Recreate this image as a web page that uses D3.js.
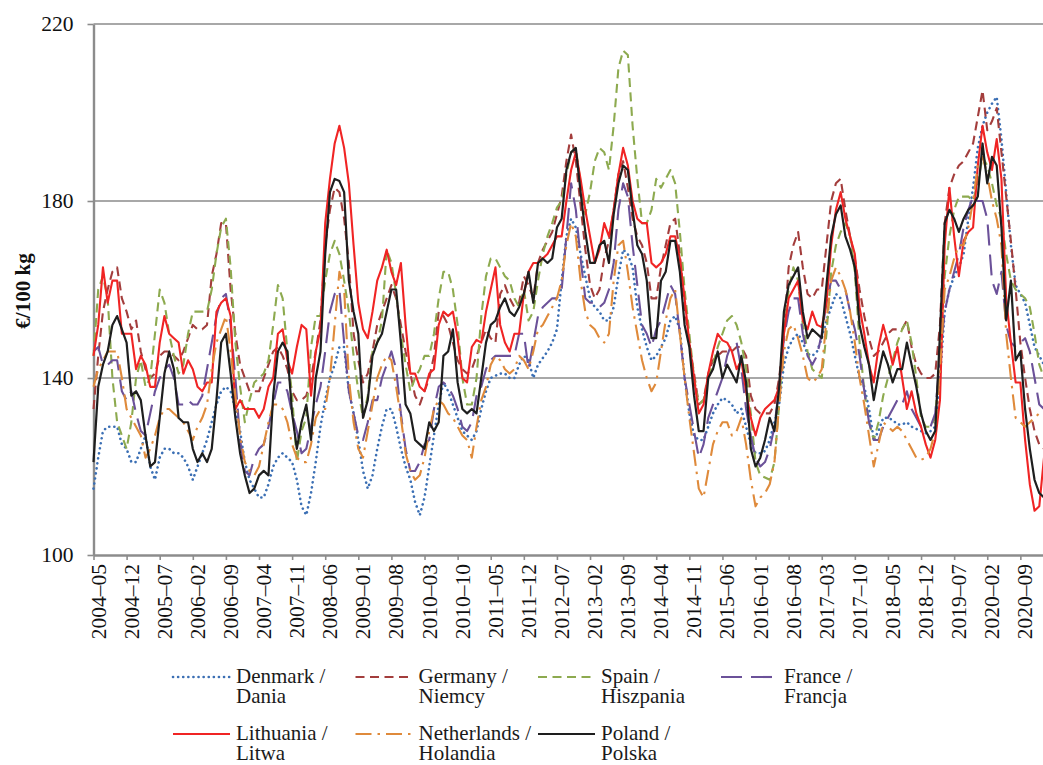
<!DOCTYPE html>
<html>
<head>
<meta charset="UTF-8" />
<title>Prices €/100 kg</title>
<script src="https://cdnjs.cloudflare.com/ajax/libs/d3/7.8.5/d3.min.js"></script>
<style>
  body { margin: 0; background: #fff; }
  svg { display: block; font-family: "Liberation Serif", "Times New Roman", serif; }
</style>
</head>
<body>
<div id="chart"></div>
<script>
// tick labels shown on the x axis (every 7th month)
var tickLabels = ["2004–05","2004–12","2005–07","2006–02","2006–09","2007–04","2007–11","2008–06",
  "2009–01","2009–08","2010–03","2010–10","2011–05","2011–12","2012–07","2013–02","2013–09",
  "2014–04","2014–11","2015–06","2016–01","2016–08","2017–03","2017–10","2018–05","2018–12",
  "2019–07","2020–02","2020–09"];
var yTicks = [100, 140, 180, 220];

// monthly categories 2004-05 .. 2021-02
var months = [];
for (var yr = 2004; yr <= 2021; yr++) {
  for (var mo = 1; mo <= 12; mo++) {
    if (yr === 2004 && mo < 5) continue;
    if (yr === 2021 && mo > 2) break;
    months.push(yr + "–" + (mo < 10 ? "0" + mo : mo));
  }
}

var denmark = [115,122,128,129,129,129,125,124,121,121,
  124,127,120,117,122,124,124,123,123,122,
  120,117,120,123,126,130,134,137,138,137,
  133,128,121,117,115,113,113,116,120,122,
  123,122,121,117,111,109,114,121,129,135,
  140,143,147,147,137,132,126,119,115,118,
  124,129,133,133,129,124,120,117,112,109,
  113,120,127,134,139,137,134,131,128,127,
  126,128,133,137,140,140.5,141,141,140,140,
  143,145,144,140,143,144.5,146,148,151,162,
  172,176,174,168,163,158,156,155,153,153,
  156,163,169,168,165,156,151,147,144,145,
  147,149,153,154,151,140,132,127,126,126,
  129,132,134,135.5,135,134,132,133,129,125,
  123,123,123.5,126,130,134,143,147,149,150,
  148,145.5,145,146,149,153,156,159,158,154,
  150,145,140,138,133,126,128,131,131,130.5,
  129.5,129.5,130,129,128.5,128,127.5,128,129,140,
  155,160,163,165,168,176,183,192,197,200,
  202,203.5,194,182,170,161,159,157,152,147,
  145,143];

var germany = [133,145,155,160,164,165,158,155,151,153,
  146,142,140,141,145,146,146,145,144,146,
  149,152,151,151,152,163,168,175,175,160,
  150,143,140,137,137,137,140,143,146,147,
  145,142,137,135,135,136,140,146,153,170,
  178,183,182,176,166,150,144,139,141,146,
  152,155,158,161,158,152,146,141,136,134,
  137,140,145,155,154,152,148,144,142,141,
  142,145,148,151,149,148,159,161,158,156,
  157,163,161,158,166,169,171,173,177,181,
  189,195,189,179,169,161,158,160,167,171,
  178,186,189,183,176,172,170,166,158,158,
  165,170,175,176,168,156,148,141,134,135,
  141,144,145,146,146,146,147,147,145,136,
  133,132,132,132,134,140,150,165,170,173,
  165,159,158,160,160,170,180,184,185,178,
  172,167,160,154,149,145,146,148,150,151,
  151,151,153,147,143,141,140,140,141,152,
  175,183,186,188,189,191,193,199,205,196,
  198,201,191,181,171,160,148,140,133,128,
  125,124];

var spain = [145,160,163,158,140,130,127,124,130,140,
  144,138,140,150,160,157,150,145,141,143,
  150,155,155,155,155,160,168,174,176,165,
  148,138,130,135,139,140,141,144,152,161,
  158,146,136,121,128,131,147,154,154,162,
  168,171,168,162,155,145,137,131,136,146,
  148,153,169,166,159,150,143,137,140,142,
  145,145,150,158,164,164,160,152,140,134,
  134,140,154,163,167,167,165,163,162,158,
  156,160,153,155,162,168,172,175,178.5,180,
  186,191,192,184,177,182,189,192,191,187,
  197,210,214,213,197,185,175,175,178,185,
  183,185,187,184,173,160,150,140,134,135,
  140,143,147,150,153,154,152,148,142,132,
  121,118,117.5,117,121,134,150,160,165,162,
  152,146,142,141,140,150,164,170,173,175,
  172,164,148,137,130,126,130,136,140,144,
  148,151,153,148,140,131,129,129,131,146,
  163,172,178,181,181,181,180,184,190,188,
  184,179,176,168,162,160,159,158,156,150,
  143,140];

var france = [146,147,143,143,144,144,137,135,137,132,
  128,127,132,137,140,142,143,140,134,134,
  135,134,134,136,142,148,154,158,159,152,
  140,126,119,118,122,124,125,129,134,139,
  139,137,132,128,123,124,129,134,138,146,
  155,159,160,148,137,132,127,126,130,135,
  135,140,143,146,142,132,124,119,119,121,
  125,126,133,138,139,138,136,133,129,128,
  130,136,138,142,144,145,145,145,145,145,
  150,150,142,148,154,156,157,158,158,160,
  172,184,178,167,158,157,157,156,157,160,
  166,178,184,181,170,161,152,150,147,151,
  153,157,161,159,150,140,134,128,122,125,
  131,134,137,140,145,148,148,142,133,127,
  122,120,121,124,129,138,149,155,158,158,
  150,145,143,145,150,157,162,162,160,160,
  155,151,145,137,130,126,126,129,131,133,
  135,134,137,133,131,129,129,129,132,145,
  155,160,164,168,174,178,181,180,180,176,
  162,159,164,152,148,147,148,149,146,140,
  134,133];

var lithuania = [145,152,165,157,162,162,150,150,150,142,
  145,143,138,138,148,154,150,149,148,141,
  144,142,138,137,139,139,155,157,158,154,
  133,135,133,133,133,131,133,138,140,150,
  151,144,141,147,152,151,136,146,151,175,
  185,193,197,192,184,170,157,151,149,155,
  162,165,169,164,161,166,152,141,141,138,
  137,141,142,152,155,154,155,149,140,139,
  147,148.6,148,155,160,165,152,148,146,150,
  150,159,164,166,166,167,168,170,172,172,
  180,187,191,185,178,172,166,169,175,172,
  178,186,192,188,180,176,175,175,166,165,
  166,168,172,172,167,158,148,140,132,134,
  141,146,150,148.5,148,146,142,144,137,131,
  127,131,133,134,135,138,150,158,160,162,
  153,151,155,152,151.5,157,170,178,182,176,
  172,168,156,150,143,139,147,152,148,143,
  147,140,133,137,132,129,125,122,126,135,
  170,183,172,163,171,173,174,188,197,191,
  187,194,185,158,148,139,139,126,116,110,
  111,122];

var netherlands = [138,142,144,146,146,146,140,133,131,129,
  127,122,124,127,131,133,133,132,131,130,
  128,126,129,131,134,142,148,151,154,146,
  136,127,121,119,118,120,125,130,134,134,
  133,130,125,122,121,121,125,131,133,133,
  140,152,164,160,140,130,124,122,128,134,
  140,143,145,144,138,131,123,119,117,118,
  122,128,133,135,134,132,131,129,127,126,
  122,129,135,138,143,145,144,142,141,142,
  145,144,142,146,151,152,154,156,158,162,
  170,175,172,162,155,152,151,149,148,150,
  162,170,171,164,156,150,144,140,137,139,
  146,153,158,160,150,140,131,123,115,113,
  119,125,128,130,130,127,128,131,125,117,
  111,113,114,116,121,134,146,151,152,149,
  145,140,139,140,142,153,162,165,163,160,
  155,148,140,134,127,120,125,130,129,128,
  129,128,126,124,122,121.5,122,124,128,142,
  160,163,167,170,170,174,180,188,190,186,
  180,176,170,150,140,131,130,129,130,131,
  132,132];

var poland = [121,138,143,146,152,154,151,148,136,137,
  135,127,120,121,131,141,146,142,131,130,
  130,124,121,123,121,124,135,148,150,141,
  131,123,118,114,115,118,119,118,136,146,
  148,146,132,124,130,134,126,140,146,168,
  182,185,184.5,182,162,155,150,131,135,145,
  148,150,155,160,160,148,134,132,126,125,
  124,130,128,130,145,146,151,139,133,132,
  133,132,140,148,152,153,156,158,155,154,
  156,159,164,157,166,167,166,167,174,176,
  187,191,192,182,173,166,166,170,171,166,
  177,184,188,187,178,170,168,162,149,149,
  162,164,171,171,164,152,147,136,128,128,
  140,142,146,140,143,141,139,145,139,124,
  120,122,126,131,128,138,155,161,163,165,
  155,149,151,150,149,161,172,177,179,172,
  169,165,152,147,143,135,141,146,143,139,
  142,142,148,143,138,132,128,126,128,150,
  175,178,176,173,176,178,179,181,193,184,
  190,188,174,153,162,144,146,133,124,117,
  114,113];

var seriesNames = [["Denmark /", "Dania"], ["Germany /", "Niemcy"], ["Spain /", "Hiszpania"],
  ["France /", "Francja"], ["Lithuania /", "Litwa"], ["Netherlands /", "Holandia"], ["Poland /", "Polska"]];
var seriesValues = [denmark, germany, spain, france, lithuania, netherlands, poland];

// drawing styles
var styles = [
  { color: "#3b6fb4", width: 2.6, dash: "0.1 5", cap: "round" },
  { color: "#a33d3c", width: 2.1, dash: "9 5.5", cap: "butt" },
  { color: "#8daa4f", width: 2.1, dash: "9 5.5", cap: "butt" },
  { color: "#6b5199", width: 2.1, dash: "21 9", cap: "butt" },
  { color: "#f02424", width: 2.1, dash: null, cap: "butt" },
  { color: "#df8a3b", width: 2.1, dash: "16 6 2.5 6", cap: "butt" },
  { color: "#1e1e1e", width: 2.2, dash: null, cap: "butt" }
];

var W = 1043, H = 765;
var plotL = 93.5, plotR = 1044, plotT = 24, plotB = 555;

var svg = d3.select("#chart").append("svg")
  .attr("width", W)
  .attr("height", H);

svg.append("rect").attr("width", W).attr("height", H).attr("fill", "#fff");

var x = d3.scalePoint().domain(months).range([plotL, plotR]);
var y = d3.scaleLinear().domain([100, 220]).range([plotB, plotT]);

// horizontal gridlines
svg.append("g").selectAll("line")
  .data(yTicks.slice(1))
  .enter().append("line")
  .attr("x1", plotL).attr("x2", W)
  .attr("y1", function(d) { return y(d); })
  .attr("y2", function(d) { return y(d); })
  .attr("stroke", "#a8a8a8")
  .attr("stroke-width", 2);

// y axis
var yAxis = svg.append("g")
  .attr("transform", "translate(" + plotL + ",0)")
  .call(d3.axisLeft(y).tickValues(yTicks).tickSize(6).tickSizeOuter(0).tickPadding(14));
yAxis.select(".domain").attr("stroke", "#8c8c8c").attr("stroke-width", 2.4);
yAxis.selectAll(".tick line").attr("stroke", "#8c8c8c").attr("stroke-width", 1.6);
yAxis.selectAll(".tick text")
  .attr("font-family", "Liberation Serif")
  .attr("font-size", "21.5px")
  .attr("fill", "#111");

// x axis
var xAxis = svg.append("g")
  .attr("transform", "translate(0," + plotB + ")")
  .call(d3.axisBottom(x).tickValues(tickLabels).tickSize(5).tickSizeOuter(0));
xAxis.select(".domain").attr("stroke", "#8c8c8c").attr("stroke-width", 2.4);
xAxis.selectAll(".tick line").attr("stroke", "#8c8c8c").attr("stroke-width", 1.6);
xAxis.selectAll(".tick text")
  .attr("transform", "rotate(-90)")
  .attr("text-anchor", "end")
  .attr("x", -9)
  .attr("y", 11.5)
  .attr("dy", null)
  .attr("font-family", "Liberation Serif")
  .attr("font-size", "21.5px")
  .attr("fill", "#111");

// y axis title
svg.append("text")
  .attr("transform", "translate(30,291) rotate(-90)")
  .attr("text-anchor", "middle")
  .attr("font-size", "21px")
  .attr("font-weight", "bold")
  .attr("fill", "#111")
  .text("€/100 kg");

// the lines
var line = d3.line()
  .x(function(d, i) { return x(months[i]); })
  .y(function(d) { return y(d); });

var lines = svg.append("g").attr("fill", "none");
seriesValues.forEach(function(vals, k) {
  var s = styles[k];
  lines.append("path")
    .datum(vals)
    .attr("d", line)
    .attr("stroke", s.color)
    .attr("stroke-width", s.width)
    .attr("stroke-dasharray", s.dash)
    .attr("stroke-linecap", s.cap)
    .attr("stroke-linejoin", "round");
});

// legend, two rows of four columns
var legCols = [173, 355.5, 538, 721];
var legRows = [677, 734];
var legend = svg.append("g").attr("font-size", "21px").attr("fill", "#1a1a1a");
seriesNames.forEach(function(nm, k) {
  var s = styles[k];
  var lx = legCols[k % 4], ly = legRows[Math.floor(k / 4)];
  legend.append("line")
    .attr("x1", lx).attr("x2", lx + 57)
    .attr("y1", ly).attr("y2", ly)
    .attr("stroke", s.color)
    .attr("stroke-width", s.width)
    .attr("stroke-dasharray", s.dash)
    .attr("stroke-linecap", s.cap);
  legend.append("text").attr("x", lx + 63).attr("y", ly + 5.5).text(nm[0]);
  legend.append("text").attr("x", lx + 63).attr("y", ly + 25.5).text(nm[1]);
});
</script>
</body>
</html>
